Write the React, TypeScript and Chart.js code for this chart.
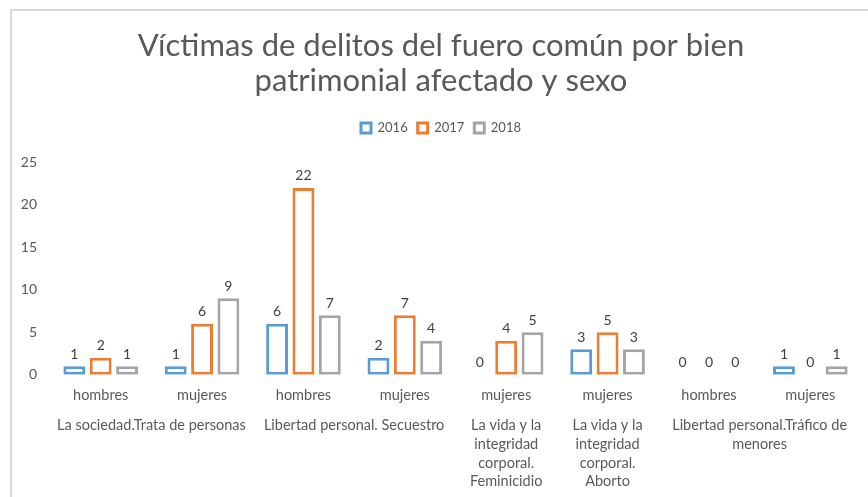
import React, { useEffect, useRef } from "react";
import { Chart, registerables } from "chart.js";

Chart.register(...registerables);

const SEX_LABELS = ["hombres", "mujeres", "hombres", "mujeres", "mujeres", "mujeres", "hombres", "mujeres"];
// Group labels placed on a 17-slot grid (half-category steps) so they centre under their categories
const GROUP_SLOTS: (string | string[])[] = [
  "",
  "",
  "La sociedad.Trata de personas",
  "",
  "",
  "",
  "Libertad personal. Secuestro",
  "",
  "",
  ["La vida y la", "integridad", "corporal.", "Feminicidio"],
  "",
  ["La vida y la", "integridad", "corporal.", "Aborto"],
  "",
  "",
  ["Libertad personal.Tráfico de", "menores"],
  "",
  "",
];
const SERIES_NAMES = ["2016", "2017", "2018"];
const DATA_2016 = [1, 1, 6, 2, 0, 3, 0, 1];
const DATA_2017 = [2, 6, 22, 7, 4, 5, 0, 0];
const DATA_2018 = [1, 9, 7, 4, 5, 3, 0, 1];
const Y_TICKS = [0, 5, 10, 15, 20, 25];

const COLORS = ["#5B9BD5", "#ED7D31", "#A5A5A5"];
const FONT = "Lato, 'Open Sans', sans-serif";
const TEXT = "#595959";

const valueLabels = {
  id: "valueLabels",
  afterDatasetsDraw(chart: any) {
    const ctx = chart.ctx;
    ctx.save();
    ctx.font = `14px ${FONT}`;
    ctx.fillStyle = "#404040";
    ctx.textAlign = "center";
    ctx.textBaseline = "bottom";
    chart.data.datasets.forEach((ds: any, i: number) => {
      const meta = chart.getDatasetMeta(i);
      meta.data.forEach((el: any, j: number) => {
        ctx.fillText(String(ds.data[j]), el.x, el.y - 5);
      });
    });
    ctx.restore();
  },
};

const noPad = (scale: any) => {
  scale.paddingLeft = 0;
  scale.paddingRight = 0;
};

export default function App() {
  const ref = useRef<HTMLCanvasElement>(null);
  useEffect(() => {
    if (!ref.current) return;
    const allData = [DATA_2016, DATA_2017, DATA_2018];
    const chart = new Chart(ref.current, {
      type: "bar",
      data: {
        labels: SEX_LABELS,
        datasets: SERIES_NAMES.map((name, i) => ({
          label: name,
          data: allData[i],
          backgroundColor: "#ffffff",
          borderColor: COLORS[i],
          borderWidth: 3,
          borderSkipped: false,
          categoryPercentage: 0.78,
          barPercentage: 0.83,
        })),
      },
      options: {
        animation: false,
        responsive: false,
        maintainAspectRatio: false,
        layout: { padding: { left: 9, right: 7, top: 18, bottom: 6 } },
        plugins: {
          title: {
            display: true,
            text: ["Víctimas de delitos del fuero común por bien", "patrimonial afectado y sexo"],
            color: TEXT,
            font: { family: FONT, size: 31, weight: "normal", lineHeight: 1.12 },
            padding: { top: 0, bottom: 13 },
          },
          subtitle: {
            display: true,
            text: "",
            weight: 500,
            font: { size: 1, lineHeight: 1 },
            padding: { top: 0, bottom: 17 },
          },
          legend: {
            display: true,
            position: "top",
            labels: {
              color: TEXT,
              font: { family: FONT, size: 13 },
              boxWidth: 10,
              boxHeight: 10,
              padding: 10,
            },
          },
          tooltip: { enabled: false },
        },
        scales: {
          x: {
            type: "category",
            position: "bottom",
            weight: 0,
            grid: { display: false, drawTicks: false },
            border: { display: false },
            afterFit: noPad,
            ticks: {
              color: TEXT,
              font: { family: FONT, size: 14.5, lineHeight: 1.2 },
              maxRotation: 0,
              autoSkip: false,
              padding: 12,
            },
          },
          x2: {
            type: "category",
            labels: GROUP_SLOTS,
            position: "bottom",
            weight: 1,
            offset: false,
            grid: { display: false, drawTicks: false },
            border: { display: false },
            afterFit: noPad,
            ticks: {
              color: TEXT,
              font: { family: FONT, size: 14.5, lineHeight: 1.29 },
              maxRotation: 0,
              autoSkip: false,
              padding: 0,
            },
          },
          y: {
            min: 0,
            max: 25,
            grid: { display: false, drawTicks: false },
            border: { display: false },
            afterBuildTicks: (scale: any) => {
              scale.ticks = Y_TICKS.map((v) => ({ value: v }));
            },
            afterFit: (scale: any) => {
              scale.width = 29;
            },
            ticks: {
              color: TEXT,
              font: { family: FONT, size: 14 },
              padding: 13,
            },
          },
        },
      },
      plugins: [valueLabels],
    });
    return () => chart.destroy();
  }, []);

  return (
    <div
      style={{
        position: "fixed",
        left: 10,
        top: 9,
        width: 870,
        height: 500,
        borderTop: "2px solid #d9d9d9",
        borderLeft: "2px solid #d9d9d9",
        background: "#fff",
      }}
    >
      <canvas ref={ref} width={856} height={486} style={{ display: "block" }} />
    </div>
  );
}
